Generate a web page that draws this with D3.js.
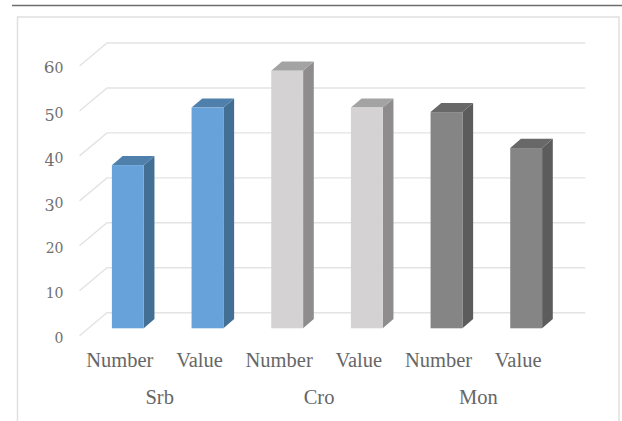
<!DOCTYPE html>
<html>
<head>
<meta charset="utf-8">
<script src="https://cdn.jsdelivr.net/npm/d3@7"></script>
<style>
html, body { margin: 0; padding: 0; background: #fff; }
svg { display: block; }
text { font-family: "Liberation Serif", serif; fill: #666; }
.tick-label { font-family: "DejaVu Serif", serif; fill: #707070; }
</style>
</head>
<body>
<svg id="chart" width="622" height="421"></svg>
<script>
// Chart data
const groups = ["Srb", "Cro", "Mon"];
const measures = ["Number", "Value"];
const values = [36.3, 49.1, 57.3, 49.1, 48.1, 40.1];
const yTicks = [0, 10, 20, 30, 40, 50, 60];

// Face colours per group: front, top, side
const frontColors = ["#67a3da", "#d4d2d3", "#858585"];
const topColors = ["#4f80ab", "#a3a3a3", "#686868"];
const sideColors = ["#436f95", "#8e8c8d", "#5c5c5c"];

const svg = d3.select("#chart");

// Column keys, two per group
const columns = groups.flatMap((g, gi) => measures.map((m, mi) => ({
  group: g, groupIndex: gi, measure: m, key: g + "-" + m, value: values[gi * 2 + mi]
})));

const x = d3.scaleBand().domain(columns.map(d => d.key)).range([88, 566]).paddingInner(0.6).paddingOuter(0.3);
const y = d3.scaleLinear().domain([0, 60]).range([312.7, 43]);

// Perspective offsets: back wall to axis edge, and column depth
const wallDx = 27.5, wallDy = 23;
const barDx = 10.7, barDy = 9.2;
const frontDrop = 15.6;
const wallLeft = 107, wallRight = 585.3;

// Outer frame and the rule above it
svg.append("line").attr("x1", 12).attr("x2", 622).attr("y1", 5.5).attr("y2", 5.5)
  .attr("stroke", "#6e6e6e").attr("stroke-width", 1.5);
svg.append("path").attr("d", "M17.5,421V17H619V421").attr("fill", "none")
  .attr("stroke", "#e0e0e0").attr("stroke-width", 1.5);

// Gridlines on the back wall and the diagonal return to the axis
const grid = svg.append("g").attr("fill", "none").attr("stroke", "#e3e3e3").attr("stroke-width", 1.4);
grid.selectAll("path").data(yTicks).join("path")
  .attr("d", d => `M${wallLeft - wallDx},${y(d) + wallDy}L${wallLeft},${y(d)}H${wallRight}`);

// Three-faced columns
const bars = svg.append("g").selectAll("g").data(columns).join("g");
const left = d => x(d.key);
const right = d => x(d.key) + x.bandwidth();
const topY = d => y(d.value) + frontDrop;
const baseY = () => y(0) + frontDrop;

bars.append("path").attr("fill", d => sideColors[d.groupIndex])
  .attr("d", d => `M${right(d)},${topY(d)}l${barDx},${-barDy}V${baseY() - barDy}l${-barDx},${barDy}Z`);
bars.append("path").attr("fill", d => topColors[d.groupIndex])
  .attr("d", d => `M${left(d)},${topY(d)}l${barDx},${-barDy}H${right(d) + barDx}l${-barDx},${barDy}Z`);
bars.append("rect").attr("fill", d => frontColors[d.groupIndex])
  .attr("x", left).attr("y", topY).attr("width", x.bandwidth()).attr("height", d => baseY() - topY(d));

// Value axis labels, set digit by digit to give old-style figures
const figure = {
  "0": { size: 14, shift: 0 }, "1": { size: 14, shift: 0 }, "2": { size: 14, shift: 0 },
  "3": { size: 16, shift: 3.5 }, "4": { size: 16, shift: 3.5 }, "5": { size: 16, shift: 3.5 },
  "6": { size: 17, shift: 0 }
};
const tickLabels = svg.append("g").selectAll("text").data(yTicks).join("text")
  .attr("class", "tick-label")
  .attr("x", 63.5).attr("y", d => y(d) + 30).attr("text-anchor", "end");
tickLabels.each(function (d) {
  let prev = 0;
  const t = d3.select(this);
  for (const ch of String(d)) {
    const f = figure[ch];
    t.append("tspan").attr("font-size", f.size).attr("dy", f.shift - prev).text(ch);
    prev = f.shift;
  }
});

// Measure labels and group labels under the columns
const labelShift = -8;
svg.append("g").selectAll("text").data(columns).join("text")
  .attr("x", d => x(d.key) + x.bandwidth() / 2 + labelShift).attr("y", 366.7)
  .attr("text-anchor", "middle").attr("font-size", 20.5).text(d => d.measure);
svg.append("g").selectAll("text").data(groups).join("text")
  .attr("x", (g, i) => (x(g + "-" + measures[0]) + x(g + "-" + measures[1]) + x.bandwidth()) / 2 + labelShift)
  .attr("y", 404).attr("text-anchor", "middle").attr("font-size", 20.5).text(d => d);
</script>
</body>
</html>
